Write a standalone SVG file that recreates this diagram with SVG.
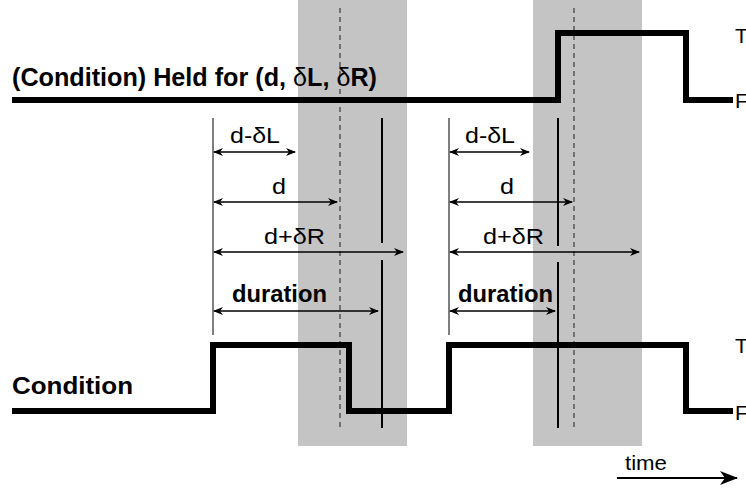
<svg xmlns="http://www.w3.org/2000/svg" width="746" height="494" viewBox="0 0 746 494">
<style>
.band{fill:#c4c4c4}
.dash{stroke:#555;stroke-width:1.5;stroke-dasharray:5 4;fill:none}
.sig{stroke:#000;stroke-width:6;fill:none;stroke-linejoin:miter}
.vmark{stroke:#000;stroke-width:2;fill:none}
.vstart{stroke:#555;stroke-width:1.5;fill:none}
.dim{stroke:#000;stroke-width:1.3;fill:none;marker-start:url(#ah);marker-end:url(#ah)}
.t{font-family:"Liberation Sans",Arial,sans-serif;fill:#000}
.b{font-weight:bold}
.n{font-weight:normal}
</style>
<defs>
<marker id="ah" viewBox="0 0 10 8" refX="9" refY="4" markerWidth="10" markerHeight="8" markerUnits="userSpaceOnUse" orient="auto-start-reverse">
<path d="M0,0 L10,4 L0,8 L3,4 z" fill="#000"/>
</marker>
<marker id="big" viewBox="0 0 18 14" refX="17" refY="7" markerWidth="18" markerHeight="14" markerUnits="userSpaceOnUse" orient="auto">
<path d="M0,0 L18,7 L0,14 L5,7 z" fill="#000"/>
</marker>
</defs>
<g id="bands">
<rect class="band" x="298" y="0" width="109" height="446"/>
<rect class="band" x="533" y="0" width="109" height="446"/>
</g>
<g id="connectors">
<line class="dash" x1="340" y1="8" x2="340" y2="428"/>
<line class="dash" x1="574" y1="8" x2="574" y2="428"/>
<line class="vstart" x1="213" y1="118" x2="213" y2="335"/>
<line class="vstart" x1="449" y1="118" x2="449" y2="335"/>
<line class="vmark" x1="382" y1="118" x2="382" y2="243"/>
<line class="vmark" x1="382" y1="260" x2="382" y2="428"/>
<line class="vmark" x1="558" y1="118" x2="558" y2="246"/>
<line class="vmark" x1="558" y1="262" x2="558" y2="428"/>
<line class="dim" x1="214" y1="152" x2="295" y2="152"/>
<line class="dim" x1="214" y1="202" x2="337" y2="202"/>
<line class="dim" x1="214" y1="252" x2="403" y2="252"/>
<line class="dim" x1="214" y1="311" x2="378" y2="311"/>
<line class="dim" x1="450" y1="152" x2="529" y2="152"/>
<line class="dim" x1="450" y1="202" x2="572" y2="202"/>
<line class="dim" x1="450" y1="252" x2="639" y2="252"/>
<line class="dim" x1="450" y1="311" x2="555" y2="311"/>
<line x1="617" y1="478" x2="737" y2="478" stroke="#000" stroke-width="2" marker-end="url(#big)"/>
</g>
<g id="held-signal">
<path class="sig" d="M12,100 H558 V33 H686 V100 H733"/>
<text class="t b" x="12" y="86" font-size="25" textLength="365" lengthAdjust="spacingAndGlyphs">(Condition) Held for (d, <tspan class="n">δ</tspan>L, <tspan class="n">δ</tspan>R)</text>
<text class="t" x="735" y="43" font-size="21">T</text>
<text class="t" x="735" y="108" font-size="21">F</text>
</g>
<g id="condition-signal">
<path class="sig" d="M12,411 H213 V345 H349 V411 H449 V345 H686 V411 H733"/>
<text class="t b" x="12" y="394" font-size="24" textLength="121" lengthAdjust="spacingAndGlyphs">Condition</text>
<text class="t" x="735" y="353" font-size="21">T</text>
<text class="t" x="735" y="420" font-size="21">F</text>
</g>
<g id="labels-1">
<text class="t" x="230" y="143" font-size="22" textLength="50" lengthAdjust="spacingAndGlyphs">d-δL</text>
<text class="t" x="272" y="194" font-size="22" textLength="14" lengthAdjust="spacingAndGlyphs">d</text>
<text class="t" x="264" y="244" font-size="22" textLength="61" lengthAdjust="spacingAndGlyphs">d+δR</text>
<text class="t b" x="232" y="302" font-size="23" textLength="95" lengthAdjust="spacingAndGlyphs">duration</text>
</g>
<g id="labels-2">
<text class="t" x="465" y="143" font-size="22" textLength="50" lengthAdjust="spacingAndGlyphs">d-δL</text>
<text class="t" x="500" y="194" font-size="22" textLength="14" lengthAdjust="spacingAndGlyphs">d</text>
<text class="t" x="483" y="244" font-size="22" textLength="61" lengthAdjust="spacingAndGlyphs">d+δR</text>
<text class="t b" x="458" y="302" font-size="23" textLength="95" lengthAdjust="spacingAndGlyphs">duration</text>
</g>
<g id="time-axis">
<text class="t" x="625" y="470" font-size="20" textLength="42" lengthAdjust="spacingAndGlyphs">time</text>
</g>
</svg>
